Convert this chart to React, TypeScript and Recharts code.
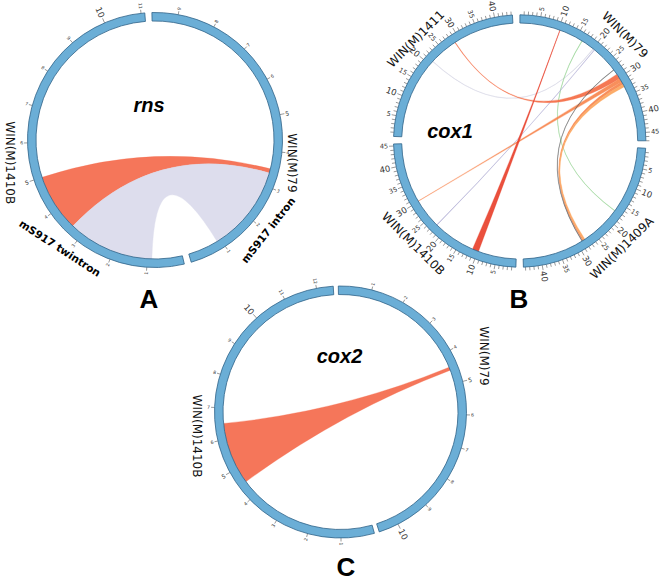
import React from 'react'
import { PieChart, Pie, Customized } from 'recharts'

// segment = [segment index, start, end] in the segment's own units
type End = [number, number, number]
type Link = { a: End; b: End; kind: string }

// panel A: rns
const rnsNames = ['WIN(M)79', 'WIN(M)1410B']
const rnsSizes = [9.7, 11.1]
const rnsReversed = [true, false]
const rnsLinks: Link[] = [
  { a: [1, 3.35, 5.0], b: [0, 3.38, 3.5], kind: 'hit' },
  { a: [1, 0.87, 3.35], b: [0, 0.88, 3.38], kind: 'intron' },
]

// panel B: cox1
const cox1Names = ['WIN(M)79', 'WIN(M)1409A', 'WIN(M)1410B', 'WIN(M)1411']
const cox1Sizes = [47, 44.5, 45.5, 44.3]
const cox1Reversed = [false, false, false, false]
const cox1Links: Link[] = [
  { a: [3, 21.1, 21.2], b: [0, 20.1, 20.2], kind: 'grey' },
  { a: [1, 17.2, 17.3], b: [0, 16.6, 16.7], kind: 'green' },
  { a: [2, 22.4, 22.5], b: [0, 20.5, 20.6], kind: 'purple' },
  { a: [3, 28.55, 28.7], b: [0, 29.0, 30.3], kind: 'orangeRed' },
  { a: [2, 30.1, 30.2], b: [0, 30.3, 31.3], kind: 'orange' },
  { a: [1, 28.2, 28.5], b: [0, 31.3, 32.0], kind: 'orange' },
  { a: [1, 27.8, 28.2], b: [0, 32.0, 32.7], kind: 'lightOrange' },
  { a: [1, 28.6, 28.7], b: [0, 27.6, 27.7], kind: 'black' },
  { a: [2, 9.8, 11.45], b: [0, 10.35, 10.45], kind: 'strong' },
]

// panel C: cox2
const cox2Names = ['WIN(M)79', 'WIN(M)1410B']
const cox2Sizes = [10.6, 12.5]
const cox2Reversed = [false, false]
const cox2Links: Link[] = [
  { a: [1, 4.5, 6.5], b: [0, 4.46, 4.56], kind: 'hit' },
]

const kindColors: Record<string, string> = {
  hit: '#f46a4c',
  intron: '#dadaeb',
  strong: '#e8412d',
  orangeRed: '#f46d45',
  orange: '#f7864e',
  lightOrange: '#fca55d',
  green: '#8ccf8a',
  purple: '#a8a4d0',
  grey: '#d0d0e0',
  black: '#555555',
}

const panels = [
  {
    title: 'rns', letter: 'A', cx: 155, cy: 140, rIn: 119, rOut: 127.5, start: -1.4, pad: 3.2,
    names: rnsNames, sizes: rnsSizes, reversed: rnsReversed, links: rnsLinks, labelAll: true,
    titleAt: [-6, -28], letterAt: [-6, 168],
    nameAt: [[99.5, 139, 90], [261.1, 146.8, 90]],
  },
  {
    title: 'cox1', letter: 'B', cx: 519.7, cy: 141, rIn: 118, rOut: 126.2, start: 0.1, pad: 3.4,
    names: cox1Names, sizes: cox1Sizes, reversed: cox1Reversed, links: cox1Links, labelAll: false,
    titleAt: [-69.7, -2.7], letterAt: [-0.7, 167],
    nameAt: [[44.8, 149.4, 45], [136.3, 148, -44], [226, 148, 45], [314.5, 145.5, -45]],
  },
  {
    title: 'cox2', letter: 'C', cx: 340.5, cy: 412, rIn: 117.5, rOut: 126, start: -1, pad: 2.3,
    names: cox2Names, sizes: cox2Sizes, reversed: cox2Reversed, links: cox2Links, labelAll: true,
    titleAt: [-1, -49.3], letterAt: [5.5, 164],
    nameAt: [[68.7, 154, 90], [260.5, 145.5, 90]],
  },
]

// annotations on panel A: [text, angle, radius, rotation]
const rnsNotes: [string, number, number, number][] = [
  ['mS917 intron', 128.5, 144.5, -52],
  ['mS917 twintron', 221.3, 143.8, 33],
]

type P = (typeof panels)[number]

const unitOf = (p: P) => (360 - p.names.length * p.pad) / p.sizes.reduce((s, v) => s + v, 0)
const segStart = (p: P, i: number) => {
  const u = unitOf(p)
  let a = p.start
  for (let k = 0; k < i; k++) a += p.sizes[k] * u + p.pad
  return a
}
const angleAt = (p: P, i: number, v: number) => {
  const pos = p.reversed[i] ? p.sizes[i] - v : v
  return segStart(p, i) + pos * unitOf(p)
}
const pt = (p: P, r: number, deg: number): [number, number] => {
  const t = (deg * Math.PI) / 180
  return [p.cx + r * Math.sin(t), p.cy - r * Math.cos(t)]
}
const f = ([x, y]: [number, number]) => `${x.toFixed(2)},${y.toFixed(2)}`

function arc(p: P, e: End) {
  const a = angleAt(p, e[0], e[1])
  const b = angleAt(p, e[0], e[2])
  return a < b ? [a, b] : [b, a]
}

function ribbon(p: P, l: Link) {
  const [s0, s1] = arc(p, l.a)
  const [t0, t1] = arc(p, l.b)
  const r = p.rIn
  return (
    `M${f(pt(p, r, s0))} A${r},${r} 0 0 1 ${f(pt(p, r, s1))} ` +
    `Q${p.cx},${p.cy} ${f(pt(p, r, t0))} A${r},${r} 0 0 1 ${f(pt(p, r, t1))} ` +
    `Q${p.cx},${p.cy} ${f(pt(p, r, s0))} Z`
  )
}

function Overlay() {
  const font = 'DejaVu Sans, sans-serif'
  return (
    <g>
      {panels.map((p) => {
        const big = p.labelAll ? 8.5 : 8.5
        const mid = p.labelAll ? 6 : 6.5
        return (
          <g key={p.title}>
            {p.links.map((l, k) => {
              const thin = Math.max(l.a[2] - l.a[1], l.b[2] - l.b[1]) < 0.5
              const c = kindColors[l.kind]
              return (
                <path key={k} d={ribbon(p, l)} fill={c} fillOpacity={thin ? 0.75 : 0.92}
                  stroke={c} strokeOpacity={thin ? 0.8 : 1} strokeWidth={thin ? 0.45 : 0.3} />
              )
            })}
            {p.sizes.map((size, i) => {
              const out = []
              for (let v = 1; v <= Math.floor(size); v++) {
                const th = angleAt(p, i, v)
                const len = v % 10 === 0 ? 5 : v % 5 === 0 ? 4.5 : 3.5
                const [x1, y1] = pt(p, p.rOut, th)
                const [x2, y2] = pt(p, p.rOut + len, th)
                out.push(<line key={'t' + v} x1={x1} y1={y1} x2={x2} y2={y2} stroke="#555" strokeWidth={0.6} />)
                if (!p.labelAll && v % 5 !== 0) continue
                const fs = v % 10 === 0 ? big : v % 5 === 0 ? mid : 4.6
                const [x, y] = pt(p, p.rOut + len + 1, th)
                const left = th > 180
                const rot = left ? th - 270 : th - 90
                out.push(
                  <text key={'l' + v} x={x} y={y} transform={`rotate(${rot} ${x} ${y})`}
                    textAnchor={left ? 'end' : 'start'} dominantBaseline="central"
                    fontSize={fs} fontFamily={font} fill="#333">{v}</text>,
                )
              }
              return <g key={i}>{out}</g>
            })}
            {p.names.map((n, i) => {
              const [th, r, rot] = p.nameAt[i]
              const [x, y] = pt(p, r, th)
              return (
                <text key={n + i} x={x} y={y} transform={`rotate(${rot} ${x} ${y})`}
                  textAnchor="middle" dominantBaseline="central" fontSize={12}
                  fontFamily={font} fill="#111">{n}</text>
              )
            })}
            <text x={p.cx + p.titleAt[0]} y={p.cy + p.titleAt[1]} textAnchor="middle"
              fontSize={20} fontWeight="bold" fontStyle="italic"
              fontFamily="Liberation Sans, Arial, sans-serif" fill="#000">{p.title}</text>
            <text x={p.cx + p.letterAt[0]} y={p.cy + p.letterAt[1]} textAnchor="middle"
              fontSize={26} fontWeight="bold"
              fontFamily="Liberation Sans, Arial, sans-serif" fill="#000">{p.letter}</text>
          </g>
        )
      })}
      {rnsNotes.map(([t, th, r, rot]) => {
        const [x, y] = pt(panels[0], r, th)
        return (
          <text key={t} x={x} y={y} transform={`rotate(${rot} ${x} ${y})`}
            textAnchor="middle" dominantBaseline="central" fontSize={10.5}
            fontWeight="bold" fontFamily={font} fill="#000">{t}</text>
        )
      })}
    </g>
  )
}

export default function App() {
  return (
    <div style={{ position: 'absolute', left: 0, top: 0, width: 660, height: 576, background: '#fff' }}>
      <PieChart width={660} height={576} margin={{ top: 0, right: 0, bottom: 0, left: 0 }}>
        {panels.map((p) => (
          <Pie
            key={p.title}
            data={p.names.map((name, i) => ({ name, value: p.sizes[i] }))}
            dataKey="value"
            nameKey="name"
            cx={p.cx}
            cy={p.cy}
            innerRadius={p.rIn}
            outerRadius={p.rOut}
            startAngle={90 - p.start}
            endAngle={90 - p.start - 360}
            paddingAngle={p.pad}
            fill="#6baed6"
            stroke="#2f6288"
            strokeWidth={0.8}
            isAnimationActive={false}
          />
        ))}
        <Customized component={Overlay} />
      </PieChart>
    </div>
  )
}
